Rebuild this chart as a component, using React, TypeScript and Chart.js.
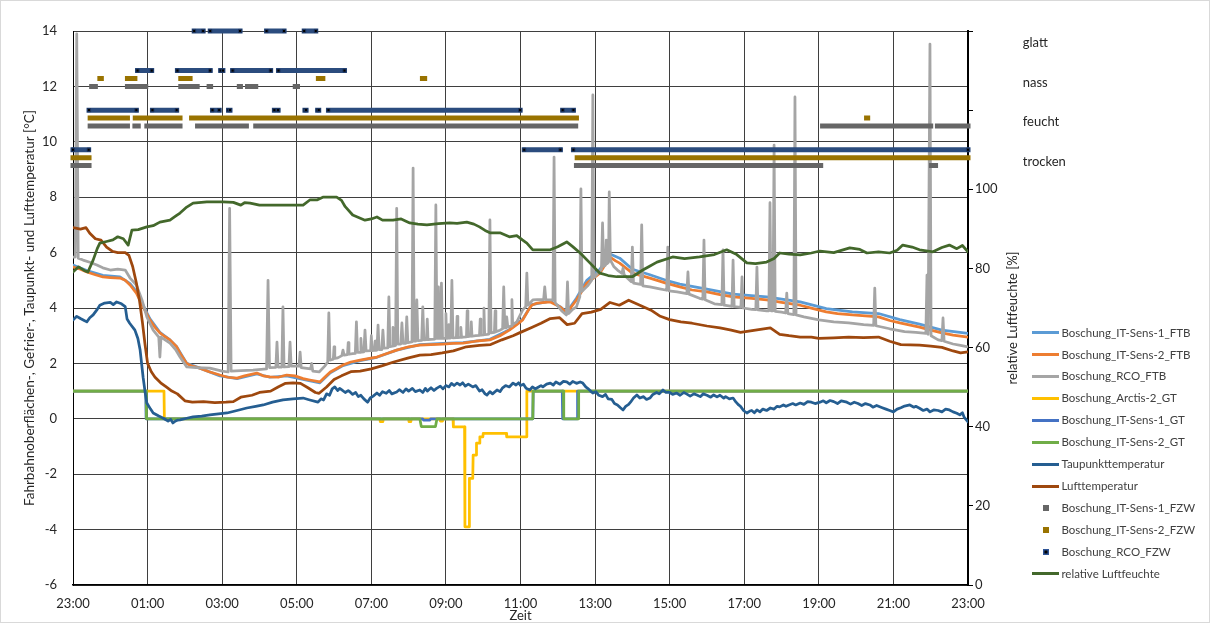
import React, { useEffect, useRef } from 'react';
import { Chart, registerables } from 'chart.js';

Chart.register(...registerables);

// ---------- DATA ----------
const timeLabels = ['23:00', '01:00', '03:00', '05:00', '07:00', '09:00', '11:00', '13:00', '15:00', '17:00', '19:00', '21:00', '23:00'];

const seriesNames = [
  'Boschung_IT-Sens-1_FTB',
  'Boschung_IT-Sens-2_FTB',
  'Boschung_RCO_FTB',
  'Boschung_Arctis-2_GT',
  'Boschung_IT-Sens-1_GT',
  'Boschung_IT-Sens-2_GT',
  'Taupunkttemperatur',
  'Lufttemperatur',
  'Boschung_IT-Sens-1_FZW',
  'Boschung_IT-Sens-2_FZW',
  'Boschung_RCO_FZW',
  'relative Luftfeuchte',
];

const statusNames = ['trocken', 'feucht', 'nass', 'glatt'];
const statusLabelValues = [107, 117, 127, 137];

// [hours since 23:00, °C]
const sens1FTB: [number, number][] = [
  [0, 5.55], [0.37, 5.35], [0.8, 5.18], [1.26, 5.12], [1.53, 4.88], [1.7, 4.6], [1.88, 4.1], [2.06, 3.62], [2.33, 3.12],
  [2.6, 2.85], [2.78, 2.6], [3.05, 2.0], [3.4, 1.83], [3.94, 1.55], [4.4, 1.45], [4.93, 1.62], [5.28, 1.5], [5.73, 1.55],
  [6.17, 1.42], [6.62, 1.3], [6.9, 1.66], [7.24, 1.92], [7.7, 2.1], [8.15, 2.22], [8.68, 2.48], [9.3, 2.68], [9.92, 2.72],
  [10.46, 2.75], [11.18, 2.87], [11.7, 3.22], [12.06, 3.6], [12.3, 4.12], [12.8, 4.25], [13.06, 4.05], [13.24, 3.85],
  [13.5, 4.35], [13.78, 5.0], [14.13, 5.4], [14.4, 5.95], [14.66, 5.8], [15.0, 5.4], [15.47, 5.2], [15.9, 5.0], [16.27, 4.86],
  [17.0, 4.68], [17.7, 4.5], [18.6, 4.4], [19.5, 4.22], [20.2, 3.98], [20.9, 3.86], [21.6, 3.8], [22.17, 3.58], [22.7, 3.42],
  [23.3, 3.2], [24.0, 3.08],
];

const sens2FTB: [number, number][] = [
  [0, 5.48], [0.2, 5.4], [0.37, 5.3], [0.6, 5.2], [0.8, 5.12], [1.0, 5.1], [1.26, 5.08], [1.4, 5.0], [1.53, 4.83], [1.7, 4.54],
  [1.88, 4.04], [2.06, 3.57], [2.2, 3.3], [2.33, 3.1], [2.45, 2.98], [2.6, 2.85], [2.78, 2.6], [2.9, 2.3], [3.05, 2.0],
  [3.2, 1.9], [3.4, 1.83], [3.65, 1.7], [3.94, 1.58], [4.15, 1.5], [4.4, 1.47], [4.6, 1.55], [4.93, 1.65], [5.1, 1.55],
  [5.28, 1.51], [5.5, 1.5], [5.73, 1.58], [5.95, 1.55], [6.17, 1.45], [6.35, 1.4], [6.62, 1.33], [6.75, 1.5], [6.9, 1.69],
  [7.05, 1.8], [7.24, 1.94], [7.45, 2.05], [7.7, 2.12], [7.95, 2.18], [8.15, 2.23], [8.4, 2.35], [8.68, 2.48], [9.0, 2.6],
  [9.3, 2.66], [9.6, 2.68], [9.92, 2.7], [10.2, 2.72], [10.46, 2.73], [10.8, 2.8], [11.18, 2.85], [11.45, 3.0], [11.7, 3.2],
  [11.9, 3.4], [12.06, 3.57], [12.2, 3.9], [12.3, 4.1], [12.45, 4.18], [12.8, 4.22], [13.06, 4.04], [13.24, 3.82], [13.5, 4.29],
  [13.78, 4.9], [14.13, 5.26], [14.4, 5.84], [14.55, 5.7], [14.66, 5.62], [15.0, 5.26], [15.47, 5.08], [15.9, 4.9], [16.27, 4.76],
  [16.6, 4.65], [17.0, 4.58], [17.35, 4.48], [17.7, 4.4], [18.2, 4.35], [18.6, 4.29], [19.0, 4.2], [19.5, 4.1], [19.85, 3.98],
  [20.2, 3.86], [20.5, 3.8], [20.9, 3.75], [21.25, 3.72], [21.6, 3.68], [21.9, 3.55], [22.17, 3.46], [22.45, 3.38], [22.7, 3.31],
  [23.0, 3.2], [23.3, 3.1], [23.6, 3.02], [24.0, 2.95],
];

const rcoFTB: [number, number][] = [
  [0, 5.84], [0.06, 5.84], [0.1, 13.9], [0.14, 5.8], [0.27, 5.73], [0.45, 5.65], [0.64, 5.55], [0.8, 5.45], [1.0, 5.37],
  [1.2, 5.4], [1.4, 5.37], [1.53, 5.08], [1.7, 4.83], [1.85, 4.29], [1.98, 3.68], [2.15, 3.2], [2.3, 2.95], [2.33, 2.23],
  [2.36, 2.95], [2.6, 2.73], [2.75, 2.5], [2.87, 2.23], [3.05, 1.87], [3.3, 1.85], [3.67, 1.83], [4.0, 1.72], [4.16, 1.69],
  [4.2, 7.6], [4.24, 1.72], [4.5, 1.74], [4.83, 1.76], [5.19, 1.8], [5.23, 5.0], [5.27, 1.85], [5.44, 1.86], [5.47, 2.77],
  [5.5, 1.87], [5.6, 1.87], [5.63, 4.04], [5.66, 1.87], [5.79, 1.88], [5.82, 2.77], [5.85, 1.9], [6.06, 1.9], [6.09, 2.41],
  [6.12, 1.85], [6.37, 1.8], [6.4, 2.0], [6.43, 1.72], [6.6, 1.69], [6.75, 1.9], [6.83, 2.05], [6.86, 3.82], [6.89, 2.12],
  [6.98, 2.15], [7.0, 2.6], [7.02, 2.18], [7.1, 2.2], [7.21, 2.28], [7.24, 2.48], [7.27, 2.3], [7.36, 2.32], [7.38, 2.75],
  [7.4, 2.33], [7.5, 2.35], [7.57, 2.36], [7.6, 3.5], [7.63, 2.4], [7.7, 2.4], [7.72, 2.9], [7.74, 2.41], [7.8, 2.42],
  [7.83, 3.2], [7.86, 2.45], [7.98, 2.46], [8.0, 3.0], [8.02, 2.46], [8.08, 2.47], [8.1, 2.8], [8.12, 2.47], [8.15, 2.48],
  [8.18, 3.38], [8.21, 2.5], [8.28, 2.5], [8.31, 3.2], [8.34, 2.55], [8.44, 2.56], [8.47, 4.4], [8.5, 2.6], [8.56, 2.62],
  [8.58, 3.3], [8.6, 2.63], [8.65, 2.65], [8.68, 7.6], [8.71, 2.7], [8.79, 2.7], [8.82, 3.46], [8.85, 2.72], [8.92, 2.72],
  [8.95, 3.68], [8.98, 2.75], [9.09, 2.78], [9.12, 9.05], [9.15, 2.8], [9.19, 2.8], [9.22, 4.29], [9.25, 2.82], [9.35, 2.83],
  [9.38, 4.04], [9.41, 2.85], [9.48, 2.86], [9.5, 3.6], [9.52, 2.86], [9.6, 2.87], [9.7, 2.88], [9.73, 7.72], [9.76, 2.9],
  [9.78, 2.9], [9.8, 4.76], [9.82, 2.9], [9.86, 2.9], [9.88, 4.9], [9.91, 2.9], [9.98, 2.9], [10.0, 3.8], [10.02, 2.9],
  [10.06, 2.91], [10.08, 3.4], [10.1, 2.91], [10.13, 2.92], [10.16, 5.0], [10.19, 2.92], [10.28, 2.93], [10.3, 3.7],
  [10.32, 2.93], [10.38, 2.94], [10.4, 3.3], [10.42, 2.94], [10.46, 2.95], [10.55, 2.96], [10.57, 3.9], [10.59, 2.97],
  [10.66, 2.98], [10.68, 3.5], [10.7, 2.98], [10.8, 3.0], [10.9, 3.01], [10.92, 3.6], [10.94, 3.02], [11.0, 3.03],
  [11.02, 4.0], [11.04, 3.04], [11.1, 3.05], [11.15, 3.06], [11.18, 7.18], [11.21, 3.1], [11.3, 3.12], [11.32, 3.9],
  [11.34, 3.14], [11.45, 3.2], [11.52, 3.25], [11.55, 4.76], [11.58, 3.28], [11.61, 3.28], [11.63, 3.68], [11.66, 3.31],
  [11.75, 3.35], [11.77, 4.3], [11.79, 3.4], [11.9, 3.5], [12.06, 3.93], [12.14, 4.05], [12.17, 5.26], [12.2, 4.1],
  [12.33, 4.29], [12.45, 4.3], [12.62, 4.3], [12.65, 4.76], [12.68, 4.3], [12.87, 4.29], [12.9, 9.45], [12.93, 4.2],
  [13.1, 3.9], [13.23, 3.75], [13.26, 4.94], [13.29, 3.8], [13.4, 3.95], [13.5, 4.04], [13.59, 4.4], [13.62, 8.3],
  [13.65, 4.6], [13.8, 4.8], [13.91, 5.0], [13.94, 11.69], [13.97, 5.1], [14.1, 5.3], [14.17, 5.4], [14.2, 7.07],
  [14.23, 5.5], [14.28, 5.55], [14.3, 6.45], [14.32, 5.6], [14.36, 5.65], [14.38, 8.19], [14.41, 5.73], [14.5, 5.5],
  [14.6, 5.37], [14.72, 5.25], [14.75, 5.44], [14.78, 5.2], [14.85, 5.1], [14.97, 4.95], [15.0, 6.2], [15.03, 4.9],
  [15.22, 4.85], [15.25, 7.0], [15.28, 4.8], [15.47, 4.76], [15.7, 4.7], [15.92, 4.64], [15.95, 6.2], [15.98, 4.62],
  [16.2, 4.58], [16.46, 4.52], [16.49, 5.3], [16.52, 4.5], [16.8, 4.35], [16.89, 4.32], [16.92, 6.45], [16.95, 4.3],
  [17.2, 4.15], [17.4, 4.12], [17.43, 6.1], [17.46, 4.1], [17.67, 4.06], [17.7, 5.73], [17.73, 4.05], [17.91, 4.02],
  [17.94, 5.12], [17.97, 4.0], [18.2, 3.95], [18.31, 3.94], [18.34, 5.48], [18.37, 3.93], [18.6, 3.9], [18.66, 3.9],
  [18.69, 7.8], [18.72, 3.9], [18.77, 3.9], [18.8, 9.88], [18.83, 3.88], [19.0, 3.85], [19.11, 3.82], [19.14, 4.54],
  [19.17, 3.8], [19.33, 3.76], [19.36, 11.62], [19.39, 3.75], [19.6, 3.68], [20.0, 3.57], [20.4, 3.5], [20.8, 3.46],
  [21.2, 3.4], [21.47, 3.37], [21.5, 4.72], [21.53, 3.36], [21.9, 3.25], [22.3, 3.15], [22.6, 3.12], [22.87, 3.08],
  [22.9, 5.19], [22.93, 3.05], [22.95, 3.05], [22.98, 13.53], [23.01, 3.0], [23.2, 2.85], [23.3, 2.82], [23.33, 3.64],
  [23.36, 2.8], [23.6, 2.7], [23.8, 2.65], [24.0, 2.6],
];

const arctis2GT: [number, number][] = [
  [0, 1], [2.44, 1], [2.45, 0], [8.23, 0], [8.24, -0.1], [8.31, -0.1], [8.32, 0], [9.0, 0], [9.01, -0.1], [9.06, -0.1],
  [9.07, 0], [9.84, 0], [9.85, -0.08], [9.9, -0.08], [9.91, 0], [10.19, 0], [10.2, -0.29], [10.5, -0.29], [10.51, -3.9],
  [10.62, -3.9], [10.63, -2.15], [10.72, -2.15], [10.73, -1.31], [10.81, -1.31], [10.82, -0.88], [10.9, -0.88],
  [10.91, -0.65], [10.99, -0.65], [11.0, -0.53], [11.62, -0.53], [11.63, -0.65], [12.16, -0.65], [12.17, 1], [24, 1],
];

const sens1GT: [number, number][] = [
  [0, 1], [1.95, 1], [1.96, 0], [9.38, 0], [9.4, -0.05], [9.57, -0.05], [9.59, 0], [12.33, 0], [12.34, 1], [13.12, 1],
  [13.13, 0], [13.52, 0], [13.53, 1], [24, 1],
];

const sens2GT: [number, number][] = [
  [0, 1], [1.96, 1], [1.97, 0], [9.3, 0], [9.34, -0.28], [9.72, -0.28], [9.76, 0], [12.33, 0], [12.34, 1], [13.15, 1],
  [13.16, 0], [13.55, 0], [13.56, 1], [24, 1],
];

const taupunkt: [number, number][] = [
  [0, 3.57], [0.1, 3.7], [0.2, 3.62], [0.3, 3.55], [0.37, 3.5], [0.45, 3.65], [0.54, 3.75], [0.65, 3.95], [0.72, 4.1],
  [0.85, 4.18], [1.0, 4.2], [1.08, 4.12], [1.17, 4.22], [1.3, 4.15], [1.4, 4.05], [1.45, 3.6], [1.52, 3.45], [1.66, 3.2],
  [1.74, 2.9], [1.8, 2.48], [1.88, 1.5], [1.94, 0.9], [1.98, 0.57], [2.08, 0.35], [2.15, 0.21], [2.3, 0.1], [2.41, 0.03],
  [2.55, -0.08], [2.62, -0.02], [2.68, -0.15], [2.75, -0.08], [2.8, -0.05], [2.87, -0.04], [3.05, 0.02], [3.22, 0.07],
  [3.45, 0.1], [3.67, 0.14], [3.9, 0.18], [4.13, 0.21], [4.4, 0.3], [4.66, 0.39], [4.9, 0.45], [5.1, 0.5], [5.35, 0.6],
  [5.63, 0.68], [5.9, 0.72], [6.17, 0.75], [6.35, 0.68], [6.57, 0.6], [6.65, 0.72], [6.72, 0.68], [6.8, 0.9], [6.88, 0.85],
  [6.95, 1.08], [7.02, 1.15], [7.1, 1.02], [7.15, 1.1], [7.2, 1.05], [7.3, 0.95], [7.38, 1.02], [7.43, 0.97], [7.5, 0.88],
  [7.58, 0.95], [7.65, 0.8], [7.72, 0.85], [7.8, 0.72], [7.9, 0.6], [7.97, 0.75], [8.05, 0.82], [8.15, 0.93], [8.22, 0.85],
  [8.3, 0.98], [8.4, 0.92], [8.48, 1.02], [8.55, 0.9], [8.68, 0.97], [8.75, 1.05], [8.85, 0.95], [8.93, 1.08], [9.0, 1.0],
  [9.1, 1.1], [9.18, 0.98], [9.3, 1.04], [9.38, 0.95], [9.45, 1.1], [9.5, 1.0], [9.6, 1.12], [9.68, 1.02], [9.75, 1.1],
  [9.85, 1.18], [9.92, 1.08], [10.0, 1.2], [10.08, 1.15], [10.15, 1.28], [10.22, 1.2], [10.3, 1.29], [10.38, 1.22],
  [10.45, 1.3], [10.52, 1.18], [10.6, 1.25], [10.72, 1.15], [10.8, 1.2], [10.9, 1.0], [10.97, 1.05], [11.05, 0.9],
  [11.1, 0.86], [11.18, 0.98], [11.25, 0.9], [11.37, 1.04], [11.45, 0.98], [11.52, 1.12], [11.6, 1.2], [11.7, 1.15],
  [11.8, 1.29], [11.88, 1.22], [11.95, 1.3], [12.0, 1.2], [12.08, 1.25], [12.15, 1.1], [12.25, 1.04], [12.32, 1.15],
  [12.4, 1.08], [12.45, 1.12], [12.55, 1.2], [12.6, 1.15], [12.7, 1.25], [12.8, 1.29], [12.88, 1.22], [12.95, 1.33],
  [13.06, 1.25], [13.15, 1.35], [13.24, 1.33], [13.32, 1.25], [13.4, 1.35], [13.5, 1.28], [13.6, 1.33], [13.67, 1.29],
  [13.75, 1.15], [13.8, 1.1], [13.88, 1.0], [13.94, 0.93], [14.02, 0.98], [14.1, 0.85], [14.2, 0.8], [14.28, 0.88],
  [14.35, 0.72], [14.45, 0.7], [14.52, 0.55], [14.6, 0.5], [14.68, 0.4], [14.75, 0.32], [14.82, 0.45], [14.9, 0.52],
  [14.95, 0.6], [15.03, 0.75], [15.12, 0.86], [15.2, 0.75], [15.3, 0.8], [15.38, 0.7], [15.47, 0.75], [15.55, 0.88],
  [15.65, 0.95], [15.72, 0.9], [15.82, 1.04], [15.9, 0.95], [16.0, 0.95], [16.08, 0.88], [16.19, 0.93], [16.28, 0.85],
  [16.38, 0.95], [16.45, 0.9], [16.55, 0.82], [16.65, 0.9], [16.73, 0.86], [16.82, 0.8], [16.9, 0.9], [17.0, 0.85],
  [17.1, 0.78], [17.18, 0.86], [17.27, 0.79], [17.35, 0.85], [17.45, 0.75], [17.5, 0.8], [17.6, 0.72], [17.7, 0.75],
  [17.78, 0.6], [17.85, 0.5], [17.9, 0.45], [17.98, 0.3], [18.07, 0.21], [18.15, 0.28], [18.2, 0.3], [18.27, 0.22],
  [18.34, 0.32], [18.42, 0.25], [18.5, 0.35], [18.6, 0.3], [18.7, 0.39], [18.8, 0.35], [18.88, 0.45], [18.95, 0.43],
  [19.05, 0.5], [19.12, 0.45], [19.2, 0.5], [19.3, 0.55], [19.38, 0.5], [19.5, 0.57], [19.6, 0.52], [19.7, 0.62],
  [19.8, 0.6], [19.9, 0.55], [20.03, 0.6], [20.12, 0.65], [20.2, 0.58], [20.3, 0.66], [20.4, 0.62], [20.5, 0.55],
  [20.6, 0.65], [20.75, 0.6], [20.85, 0.53], [20.95, 0.6], [21.05, 0.55], [21.15, 0.48], [21.25, 0.55], [21.37, 0.5],
  [21.45, 0.42], [21.55, 0.48], [21.7, 0.4], [21.8, 0.35], [21.9, 0.3], [22.0, 0.25], [22.1, 0.35], [22.2, 0.4],
  [22.3, 0.46], [22.44, 0.5], [22.55, 0.42], [22.6, 0.45], [22.7, 0.38], [22.8, 0.3], [22.9, 0.35], [22.98, 0.25],
  [23.08, 0.32], [23.2, 0.3], [23.3, 0.25], [23.4, 0.35], [23.5, 0.32], [23.6, 0.25], [23.7, 0.2], [23.78, 0.14],
  [23.85, 0.22], [23.9, 0.05], [24.0, -0.11],
];

const lufttemperatur: [number, number][] = [
  [0, 6.9], [0.2, 6.85], [0.35, 6.9], [0.45, 6.7], [0.6, 6.5], [0.75, 6.45], [0.9, 6.2], [1.05, 6.05], [1.2, 6.0], [1.4, 6.0],
  [1.5, 5.9], [1.6, 5.5], [1.7, 4.9], [1.78, 4.3], [1.86, 3.5], [1.93, 2.7], [2.0, 2.0], [2.1, 1.7], [2.2, 1.5], [2.35, 1.3],
  [2.5, 1.15], [2.65, 1.0], [2.8, 0.9], [3.0, 0.65], [3.2, 0.6], [3.5, 0.62], [3.8, 0.58], [4.1, 0.6], [4.3, 0.62], [4.5, 0.78],
  [4.8, 0.85], [5.0, 0.95], [5.3, 1.0], [5.5, 1.15], [5.7, 1.28], [5.9, 1.3], [6.1, 1.28], [6.3, 1.12], [6.5, 0.95], [6.6, 0.92],
  [6.8, 1.15], [7.0, 1.42], [7.2, 1.55], [7.45, 1.7], [7.7, 1.72], [8.0, 1.8], [8.3, 1.92], [8.6, 2.05], [9.0, 2.2], [9.3, 2.3],
  [9.6, 2.32], [9.9, 2.38], [10.2, 2.45], [10.55, 2.6], [10.9, 2.65], [11.2, 2.68], [11.5, 2.85], [11.8, 3.0], [12.0, 3.12],
  [12.3, 3.3], [12.55, 3.45], [12.8, 3.62], [13.05, 3.65], [13.25, 3.4], [13.45, 3.45], [13.65, 3.8], [13.9, 3.85],
  [14.15, 3.95], [14.4, 4.2], [14.65, 4.1], [14.9, 4.28], [15.2, 4.1], [15.5, 3.92], [15.75, 3.7], [16.0, 3.58], [16.3, 3.5],
  [16.6, 3.45], [17.0, 3.35], [17.35, 3.28], [17.65, 3.2], [17.9, 3.12], [18.3, 3.2], [18.7, 3.28], [18.95, 3.05], [19.2, 3.0],
  [19.5, 2.95], [19.8, 2.95], [20.0, 2.9], [20.4, 2.92], [20.8, 2.95], [21.2, 2.93], [21.6, 2.95], [21.9, 2.8], [22.2, 2.68],
  [22.7, 2.66], [23.0, 2.62], [23.3, 2.58], [23.6, 2.45], [23.8, 2.38], [24.0, 2.42],
];

// [hours since 23:00, %]
const luftfeuchte: [number, number][] = [
  [0, 79.1], [0.15, 80.4], [0.3, 79.5], [0.4, 79.1], [0.54, 82.1], [0.65, 85], [0.72, 86.4], [0.9, 86.8], [1.07, 87.2],
  [1.2, 88], [1.35, 87.5], [1.48, 85.9], [1.58, 89.7], [1.75, 89.8], [1.98, 90.5], [2.15, 90.8], [2.33, 91.7], [2.6, 92.2],
  [2.75, 93.2], [2.87, 94], [3.05, 95.5], [3.22, 96.5], [3.59, 96.8], [4.02, 96.8], [4.3, 96.7], [4.5, 96.0], [4.6, 96.6],
  [4.75, 96.5], [5.0, 96.0], [5.28, 96.0], [5.8, 96.0], [6.17, 96.0], [6.35, 97.3], [6.54, 97.3], [6.7, 98], [7.07, 98],
  [7.2, 97.2], [7.3, 95.6], [7.5, 93.5], [7.83, 92.2], [8.0, 92.5], [8.15, 93], [8.3, 92.2], [8.58, 92.2], [8.8, 92.5],
  [9.03, 91.5], [9.25, 91.2], [9.49, 91.0], [9.8, 91.3], [10.1, 91.5], [10.3, 91.4], [10.56, 91.7], [10.75, 91.2],
  [10.9, 90.5], [11.05, 89.6], [11.18, 89], [11.45, 89], [11.7, 88], [11.9, 88.3], [12.05, 87.2], [12.17, 86.4],
  [12.33, 84.7], [12.44, 84.7], [12.8, 84.7], [13.0, 85.5], [13.24, 86.7], [13.4, 85.5], [13.6, 83.9], [13.86, 81.4],
  [14.13, 78.8], [14.35, 78.2], [14.58, 77.9], [15.0, 77.9], [15.28, 79.6], [15.45, 80.5], [15.66, 81.6], [16.08, 82.9],
  [16.4, 82.5], [16.8, 82.9], [17.2, 83.5], [17.53, 84.7], [17.8, 83.5], [18.07, 81.4], [18.3, 81.2], [18.6, 81.6],
  [18.8, 82.5], [18.95, 83.9], [19.2, 83.6], [19.5, 83.4], [19.8, 83.9], [20.03, 84.4], [20.4, 84.0], [20.83, 85.2],
  [21.1, 84.8], [21.29, 83.9], [21.6, 84.2], [21.9, 83.9], [22.1, 84.6], [22.25, 85.9], [22.5, 85.4], [22.7, 84.7],
  [23.06, 84.2], [23.3, 85.3], [23.5, 85.9], [23.7, 85.0], [23.85, 85.8], [24.0, 84.2],
];

// status intervals [start h, end h, status value on right axis]
const sens1FZW: [number, number, number][] = [
  [0, 0.43, 106], [0.46, 1.46, 116], [0.5, 0.6, 126], [1.46, 1.95, 126], [1.66, 1.75, 116], [1.98, 2.87, 116],
  [2.89, 3.33, 126], [3.34, 4.65, 116], [3.65, 3.69, 126], [4.46, 4.49, 126], [4.68, 4.9, 126], [4.9, 13.48, 116],
  [5.96, 6.02, 126], [13.5, 20.05, 106], [20.1, 23.0, 116], [23.02, 23.13, 106], [23.18, 24, 116],
];

const sens2FZW: [number, number, number][] = [
  [0, 0.43, 108], [0.46, 1.46, 118], [0.72, 0.76, 128], [1.46, 1.66, 128], [1.67, 2.87, 118], [2.89, 3.14, 128],
  [3.18, 13.5, 118], [6.58, 6.7, 128], [9.37, 9.43, 128], [13.52, 24, 108], [21.28, 21.31, 118],
];

const rcoFZW: [number, number, number][] = [
  [0, 0.42, 110], [0.43, 1.7, 120], [1.73, 2.11, 130], [2.13, 2.78, 120], [2.8, 3.68, 130], [3.25, 3.49, 140],
  [3.68, 4.48, 140], [3.74, 3.92, 120], [3.96, 4.02, 130], [4.17, 4.21, 120], [4.28, 5.3, 130], [5.19, 5.66, 140],
  [5.4, 5.5, 120], [5.51, 7.28, 130], [6.2, 6.51, 140], [6.22, 6.25, 120], [6.56, 6.59, 120], [6.85, 11.99, 120],
  [12.1, 13.07, 110], [13.13, 13.42, 120], [13.42, 24, 110],
];

// ---------- helpers ----------
const toXY = (pairs: [number, number][]) => pairs.map(([x, y]) => ({ x, y }));
const intervalsToXY = (iv: [number, number, number][]) => {
  const out: { x: number; y: number | null }[] = [];
  iv.forEach(([a, b, v]) => {
    out.push({ x: a, y: v }, { x: b, y: v }, { x: b, y: null });
  });
  return out;
};

const FONT = "Lato, 'Open Sans', sans-serif";

function makeLineIcon(color: string) {
  const c = document.createElement('canvas');
  c.width = 27;
  c.height = 3;
  const g = c.getContext('2d')!;
  g.fillStyle = color;
  g.fillRect(0, 0, 27, 3);
  return c;
}
function makeSquareIcon(fill: string, inner?: string) {
  const c = document.createElement('canvas');
  c.width = 6;
  c.height = 6;
  const g = c.getContext('2d')!;
  g.fillStyle = fill;
  g.fillRect(0, 0, 6, 6);
  if (inner) {
    g.fillStyle = inner;
    g.fillRect(1.5, 1.5, 3, 3);
  }
  return c;
}

export default function App() {
  const ref = useRef<HTMLCanvasElement | null>(null);

  useEffect(() => {
    if (!ref.current) return;
    Chart.defaults.font.family = FONT;

    const colors = {
      s1ftb: '#5B9BD5',
      s2ftb: '#ED7D31',
      rcoftb: '#A5A5A5',
      arctis: '#FFC000',
      s1gt: '#4472C4',
      s2gt: '#70AD47',
      tau: '#255E91',
      luft: '#9E480E',
      s1fzw: '#666666',
      s2fzw: '#997300',
      rcofzw: '#2B4C7E',
      feuchte: '#43682B',
    };

    const legendIcons = [
      makeLineIcon(colors.s1ftb),
      makeLineIcon(colors.s2ftb),
      makeLineIcon(colors.rcoftb),
      makeLineIcon(colors.arctis),
      makeLineIcon(colors.s1gt),
      makeLineIcon(colors.s2gt),
      makeLineIcon(colors.tau),
      makeLineIcon(colors.luft),
      makeSquareIcon(colors.s1fzw),
      makeSquareIcon(colors.s2fzw),
      makeSquareIcon('#2F5597', '#000000'),
      makeLineIcon(colors.feuchte),
    ];

    const lineDs = (i: number, data: [number, number][], color: string, axis = 'y') => ({
      label: seriesNames[i],
      data: toXY(data),
      borderColor: color,
      backgroundColor: color,
      borderWidth: 2.75,
      pointRadius: 0,
      tension: 0,
      borderJoinStyle: 'round' as const,
      borderCapStyle: 'round' as const,
      yAxisID: axis,
      order: 50 - i,
    });
    const statusDs = (i: number, data: [number, number, number][], color: string, rco = false) => ({
      label: seriesNames[i],
      data: intervalsToXY(data),
      borderColor: color,
      backgroundColor: color,
      borderWidth: 5,
      borderCapStyle: 'square' as const,
      spanGaps: false,
      pointRadius: rco ? 2.2 : 0,
      pointStyle: 'rect' as const,
      pointBackgroundColor: '#000000',
      pointBorderColor: '#1F3864',
      pointBorderWidth: 1,
      yAxisID: 'y2',
      clip: false as const,
      order: 50 - i,
    });

    // legend geometry
    const legendFont = 11.5;
    const legendPad = 10.4;
    const legendBoxW = 19.5;
    const meas = document.createElement('canvas').getContext('2d')!;
    meas.font = `${legendFont}px ${FONT}`;
    const tw = Math.max(...seriesNames.map((n) => meas.measureText(n).width));
    const legendLeft = 1025.75;
    const legendWidth = legendPad + legendBoxW + legendFont / 2 + tw + 10;
    const padRight = Math.max(0, 1211 - legendLeft - legendWidth);

    const textColor = '#262626';

    const decor = {
      id: 'decor',
      afterLayout(chart: any) {
        // legend column ends just below the plot area's bottom edge
        if (chart.legend) chart.legend.bottom = chart.chartArea.bottom + 5;
      },
      beforeDraw(chart: any) {
        const { ctx } = chart;
        ctx.save();
        ctx.fillStyle = '#ffffff';
        ctx.fillRect(0, 0, chart.width, chart.height);
        ctx.restore();
      },
      afterDraw(chart: any) {
        const { ctx } = chart;
        const y2 = chart.scales.y2;
        ctx.save();
        ctx.fillStyle = textColor;
        ctx.font = `13px ${FONT}`;
        ctx.textAlign = 'left';
        ctx.textBaseline = 'middle';
        statusNames.forEach((n, i) => {
          ctx.fillText(n, y2.right - 3, y2.getPixelForValue(statusLabelValues[i]));
        });
        ctx.translate(y2.left + 45, y2.getPixelForValue(67.5));
        ctx.rotate(-Math.PI / 2);
        ctx.textAlign = 'center';
        ctx.fillText('relative Luftfeuchte [%]', 0, 0);
        ctx.restore();
        ctx.save();
        ctx.strokeStyle = '#d9d9d9';
        ctx.lineWidth = 1;
        ctx.strokeRect(0.5, 0.5, chart.width - 2, chart.height - 2);
        ctx.restore();
      },
    };

    const chart = new Chart(ref.current, {
      type: 'line',
      data: {
        datasets: [
          lineDs(0, sens1FTB, colors.s1ftb),
          lineDs(1, sens2FTB, colors.s2ftb),
          lineDs(2, rcoFTB, colors.rcoftb),
          lineDs(3, arctis2GT, colors.arctis),
          lineDs(4, sens1GT, colors.s1gt),
          lineDs(5, sens2GT, colors.s2gt),
          lineDs(6, taupunkt, colors.tau),
          lineDs(7, lufttemperatur, colors.luft),
          statusDs(8, sens1FZW, colors.s1fzw),
          statusDs(9, sens2FZW, colors.s2fzw),
          statusDs(10, rcoFZW, colors.rcofzw, true),
          lineDs(11, luftfeuchte, colors.feuchte, 'y2'),
        ] as any,
      },
      options: {
        responsive: false,
        animation: false,
        events: [],
        layout: { padding: { left: 0, top: 31, right: padRight, bottom: 0 } },
        plugins: {
          tooltip: { enabled: false },
          legend: {
            position: 'right',
            align: 'end',
            labels: {
              usePointStyle: true,
              pointStyleWidth: legendBoxW,
              padding: legendPad,
              color: '#404040',
              font: { size: legendFont, family: FONT },
              sort: (a: any, b: any) => a.datasetIndex - b.datasetIndex,
              generateLabels: (c: any) => {
                const items = (Chart.defaults.plugins.legend.labels as any).generateLabels(c);
                return items.map((it: any) => ({ ...it, pointStyle: legendIcons[it.datasetIndex] }));
              },
            },
          },
        },
        scales: {
          x: {
            type: 'linear',
            min: 0,
            max: 24,
            ticks: {
              stepSize: 2,
              autoSkip: false,
              maxRotation: 0,
              padding: 11,
              color: textColor,
              font: { size: 13, family: FONT },
              callback: (v: any) => timeLabels[Math.round(Number(v) / 2)] ?? '',
            },
            grid: { color: '#3f3f3f', lineWidth: 1, drawTicks: false },
            border: { color: '#000000', width: 1.5 },
            title: {
              display: true,
              text: 'Zeit',
              color: textColor,
              font: { size: 13, family: FONT },
              padding: { top: 0, bottom: 0 },
            },
            afterFit: (s: any) => {
              s.height = 39;
            },
          },
          y: {
            position: 'left',
            min: -6,
            max: 14,
            ticks: { stepSize: 2, padding: 16, color: textColor, font: { size: 13, family: FONT } },
            grid: { color: '#3f3f3f', lineWidth: 1, drawTicks: false },
            border: { color: '#000000', width: 1 },
            title: {
              display: true,
              text: 'Fahrbahnoberflächen-, Gefrier-, Taupunkt- und Lufttemperatur [°C]',
              color: textColor,
              font: { size: 13.5, family: FONT },
              padding: { top: 22, bottom: 0 },
            },
            afterFit: (s: any) => {
              s.width = 73;
            },
          },
          y2: {
            position: 'right',
            min: 0,
            max: 140,
            ticks: {
              stepSize: 20,
              padding: 2,
              color: textColor,
              font: { size: 13, family: FONT },
              callback: (v: any) => (Number(v) <= 100 ? String(v) : ''),
            },
            grid: { drawOnChartArea: false, drawTicks: true, tickLength: 5, color: '#000000', lineWidth: 1 },
            border: { color: '#000000', width: 2 },
            afterFit: (s: any) => {
              s.width = legendLeft - 968;
            },
          },
        },
      } as any,
      plugins: [decor],
    });

    return () => chart.destroy();
  }, []);

  return (
    <div style={{ position: 'absolute', left: 0, top: 0, width: 1211, height: 624, background: '#fff' }}>
      <canvas ref={ref} width={1211} height={624} style={{ display: 'block', width: 1211, height: 624 }} />
    </div>
  );
}
